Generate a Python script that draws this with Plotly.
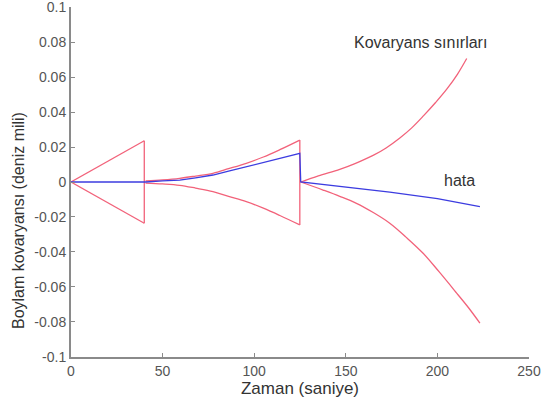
import plotly.graph_objects as go

# Covariance bounds and longitude error (nautical miles) against time (s),
# split into the three filter phases.
upper_a_t = [0, 40.0]
upper_a_v = [0, 0.0236]
upper_b_t = [40.7, 50.0, 59.3, 68.0, 77.5, 86.0, 95.7, 105.0, 114.0, 124.9]
upper_b_v = [0.0006, 0.0012, 0.0021, 0.0034, 0.0050, 0.0076, 0.0107, 0.0143, 0.0185, 0.0240]
upper_c_t = [125.4, 135.0, 146.7, 155.0, 164.9, 172.0, 179.5, 186.0, 192.5, 199.0, 205.0, 211.0, 216.0]
upper_c_v = [0.0, 0.0035, 0.0072, 0.0105, 0.0152, 0.0195, 0.0252, 0.0310, 0.0380, 0.0455, 0.0530, 0.0618, 0.0707]

lower_a_t = [0, 40.0]
lower_a_v = [0, -0.0236]
lower_b_t = [40.7, 50.0, 59.3, 68.0, 77.5, 86.0, 95.7, 105.0, 114.0, 124.9]
lower_b_v = [-0.0006, -0.0011, -0.0019, -0.0035, -0.0055, -0.0082, -0.0112, -0.0150, -0.0192, -0.0246]
lower_c_t = [125.4, 137.6, 146.7, 155.8, 165.0, 174.0, 183.0, 192.2, 201.0, 210.5, 217.0, 223.2]
lower_c_v = [0.0, -0.0046, -0.0082, -0.0122, -0.0175, -0.0236, -0.0317, -0.0408, -0.0515, -0.0636, -0.0720, -0.0808]

error_t = [0, 40.7, 50.0, 59.3, 68.0, 77.5, 86.0, 95.7, 105.0, 114.0, 124.9,
           125.4, 150.0, 174.0, 200.0, 223.2]
error_v = [0, 0.0, 0.0006, 0.0011, 0.0024, 0.0040, 0.0062, 0.0088, 0.0112, 0.0135, 0.0164,
           0.0, -0.0030, -0.0058, -0.0095, -0.0141]

x_ticks = [0, 50, 100, 150, 200, 250]
x_tick_text = ["0", "50", "100", "150", "200", "250"]
y_ticks = [0.1, 0.08, 0.06, 0.04, 0.02, 0, -0.02, -0.04, -0.06, -0.08, -0.1]
y_tick_text = ["0.1", "0.08", "0.06", "0.04", "0.02", "0",
               "-0.02", "-0.04", "-0.06", "-0.08", "-0.1"]

RED = "#f2627a"
BLUE = "#3c3ce0"
FONT = "Liberation Sans, Arial, sans-serif"

fig = go.Figure()


def add_line(x, y, color, shape="linear"):
    fig.add_trace(go.Scatter(x=x, y=y, mode="lines", hoverinfo="skip",
                             line=dict(color=color, width=1.3, shape=shape)))


# Bounds: straight first phase, smooth growth in the later phases
add_line(upper_a_t, upper_a_v, RED)
add_line(lower_a_t, lower_a_v, RED)
add_line(upper_b_t, upper_b_v, RED, "spline")
add_line(lower_b_t, lower_b_v, RED, "spline")
add_line(upper_c_t, upper_c_v, RED, "spline")
add_line(lower_c_t, lower_c_v, RED, "spline")
# Vertical resets of the bounds
add_line([upper_a_t[-1], lower_a_t[-1]], [upper_a_v[-1], lower_a_v[-1]], RED)
add_line([upper_b_t[-1], lower_b_t[-1]], [upper_b_v[-1], lower_b_v[-1]], RED)
# Error
add_line(error_t, error_v, BLUE)

fig.update_layout(
    width=550, height=403,
    margin=dict(l=71, r=21, t=7, b=46, autoexpand=False),
    paper_bgcolor="white", plot_bgcolor="white",
    showlegend=False,
    font=dict(family=FONT, color="#444444", size=13),
    xaxis=dict(
        range=[0, 250], tickvals=x_ticks, ticktext=x_tick_text,
        showgrid=False, zeroline=False, automargin=False,
        showline=True, linecolor="#8a8a8a", linewidth=2,
        ticks="inside", ticklen=4, tickcolor="#8a8a8a", tickwidth=1,
        tickfont=dict(size=14, color="#555555"),
        ticklabeloverflow="allow",
        title=dict(text="Zaman (saniye)", font=dict(size=17, color="#333333"), standoff=0),
    ),
    yaxis=dict(
        range=[-0.1002, 0.1002], tickvals=y_ticks, ticktext=y_tick_text,
        showgrid=False, zeroline=False, automargin=False,
        showline=True, linecolor="#8a8a8a", linewidth=2,
        ticks="inside", ticklen=4, tickcolor="#8a8a8a", tickwidth=1,
        tickfont=dict(size=14, color="#555555"),
        ticklabeloverflow="allow",
    ),
    annotations=[
        dict(text="Boylam kovaryansı (deniz mili)", textangle=-90,
             xref="paper", yref="paper", x=0.0, y=0.39,
             xshift=-42, xanchor="right", showarrow=False,
             font=dict(size=16, color="#333333")),
        dict(text="Kovaryans sınırları", x=191, y=0.0797, showarrow=False,
             font=dict(size=16, color="#333333")),
        dict(text="hata", x=212, y=0.0011, showarrow=False,
             font=dict(size=16, color="#333333")),
    ],
)

fig.write_html("out.html")
